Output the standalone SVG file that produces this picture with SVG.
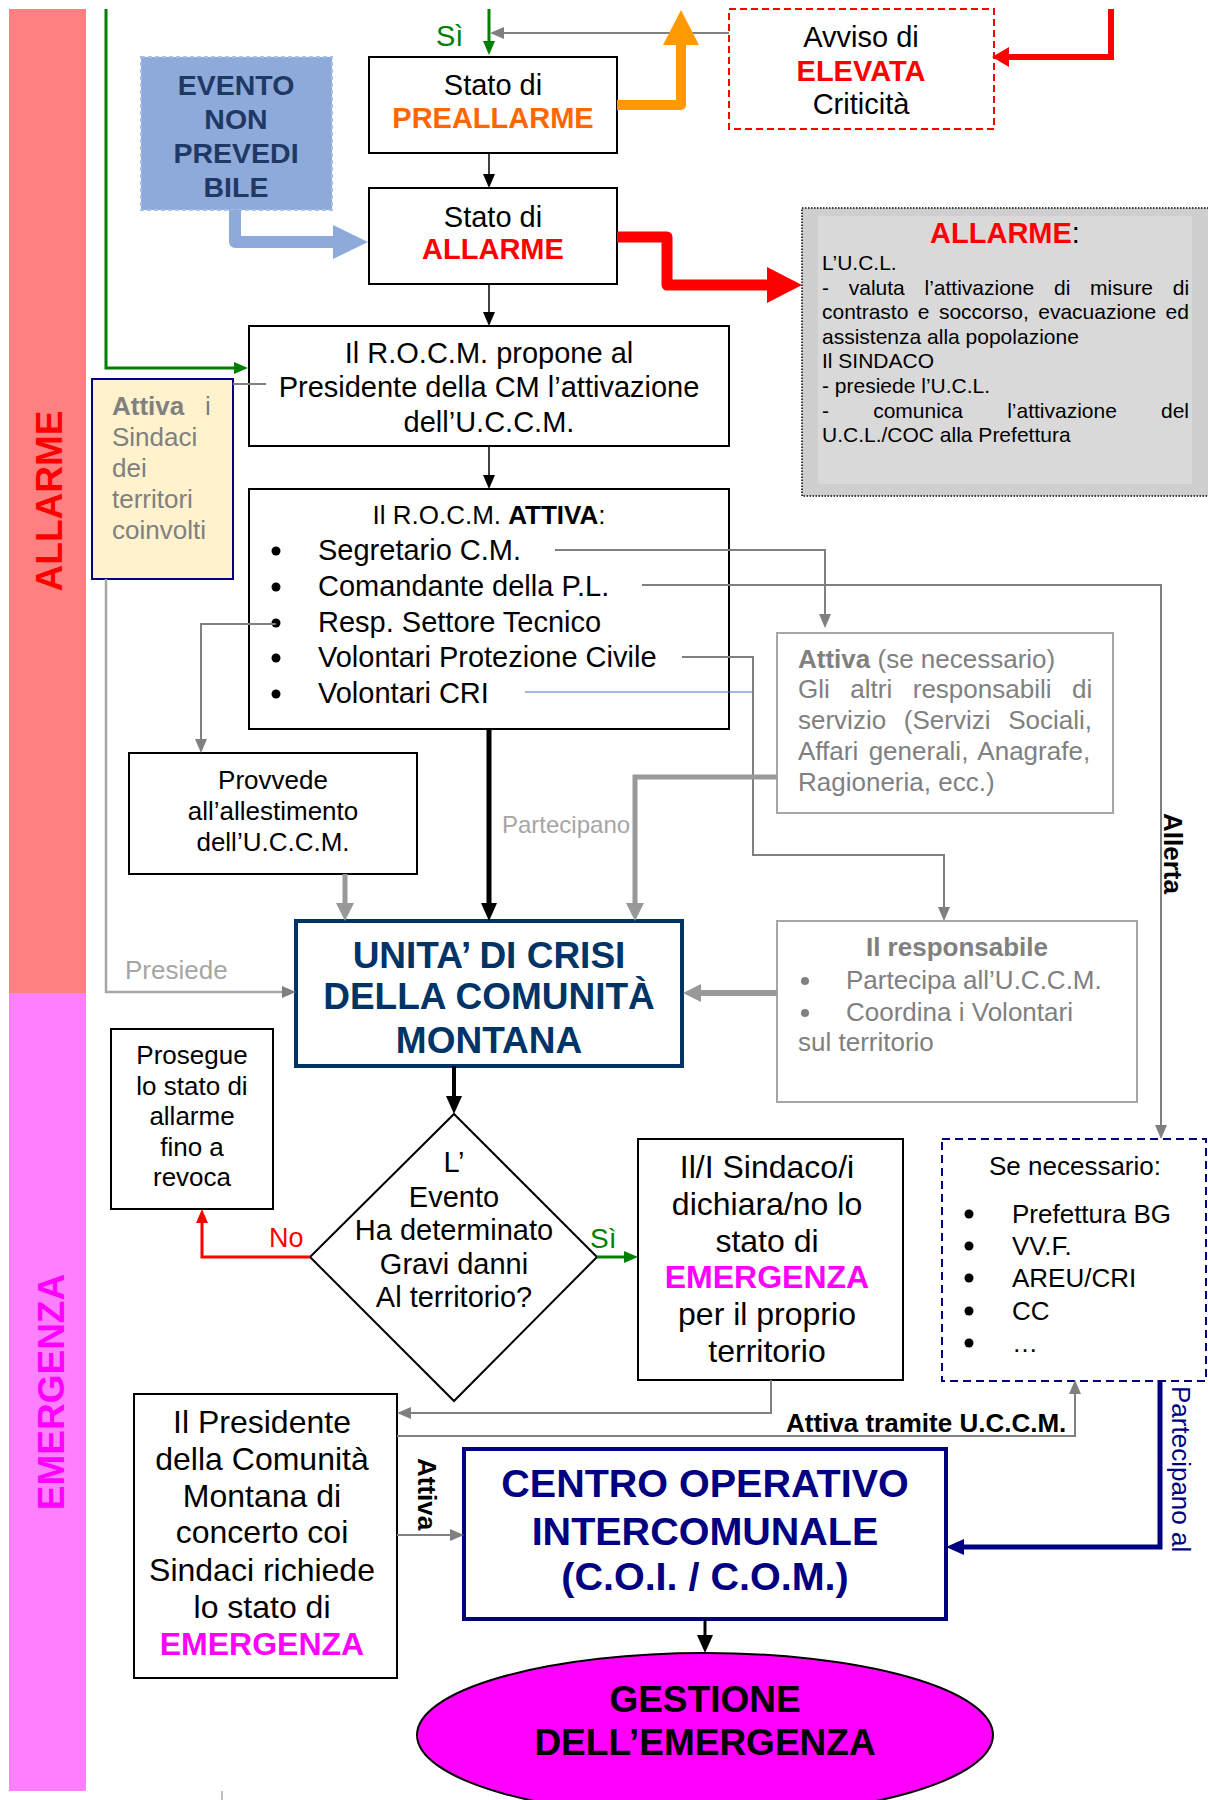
<svg xmlns="http://www.w3.org/2000/svg" width="1208" height="1800" viewBox="0 0 1208 1800">
<style>
text{font-family:"Liberation Sans",Arial,sans-serif}
.box{fill:#fff;stroke:#000;stroke-width:2}
.gbox{fill:#fff;stroke:#a6a6a6;stroke-width:2}
.c{text-anchor:middle}
.b{font-weight:bold}
.f29{font-size:29px}
.f26{font-size:26px}
.f32{font-size:32px}
.gt{fill:#808080}
.lg{fill:#a6a6a6}
.ln{fill:none;stroke:#808080;stroke-width:2}
.lnk{fill:none;stroke:#999;stroke-width:5}
.red{fill:#ff0000}
.mag{fill:#ff00ff}
.grn{fill:#008000}
</style>
<defs>
<marker id="ak" markerUnits="userSpaceOnUse" markerWidth="14" markerHeight="12" refX="1" refY="6" orient="auto"><path d="M0,0 L14,6 L0,12 z" fill="#000"/></marker>
<marker id="akl" markerUnits="userSpaceOnUse" markerWidth="18" markerHeight="16" refX="1" refY="8" orient="auto"><path d="M0,0 L18,8 L0,16 z" fill="#000"/></marker>
<marker id="ag" markerUnits="userSpaceOnUse" markerWidth="14" markerHeight="12" refX="1" refY="6" orient="auto"><path d="M0,0 L14,6 L0,12 z" fill="#808080"/></marker>
<marker id="agl" markerUnits="userSpaceOnUse" markerWidth="18" markerHeight="18" refX="1" refY="9" orient="auto"><path d="M0,0 L18,9 L0,18 z" fill="#999"/></marker>
<marker id="agr" markerUnits="userSpaceOnUse" markerWidth="14" markerHeight="12" refX="1" refY="6" orient="auto"><path d="M0,0 L14,6 L0,12 z" fill="#008000"/></marker>
<marker id="ar" markerUnits="userSpaceOnUse" markerWidth="14" markerHeight="12" refX="1" refY="6" orient="auto"><path d="M0,0 L14,6 L0,12 z" fill="#ff0000"/></marker>
<marker id="an" markerUnits="userSpaceOnUse" markerWidth="18" markerHeight="16" refX="1" refY="8" orient="auto"><path d="M0,0 L18,8 L0,16 z" fill="#000080"/></marker>
</defs>
<rect width="1208" height="1800" fill="#fff"/>

<g id="bar-allarme">
<rect x="9" y="9" width="77" height="984" fill="#ff8080"/>
<text transform="translate(62,501) rotate(-90)" class="c b red" font-size="37">ALLARME</text>
</g>
<g id="bar-emergenza">
<rect x="9" y="993" width="77" height="798" fill="#ff80ff"/>
<text transform="translate(64,1392) rotate(-90)" class="c b mag" font-size="37">EMERGENZA</text>
</g>

<g id="evento-non-prevedibile">
<rect x="141" y="57" width="191" height="153" fill="#8eaadb" stroke="#a9c0e6" stroke-width="2" stroke-dasharray="4,3"/>
<text class="c b" font-size="28.5" fill="#1f3864"><tspan x="236" y="95">EVENTO</tspan><tspan x="236" y="129">NON</tspan><tspan x="236" y="163">PREVEDI</tspan><tspan x="236" y="197">BILE</tspan></text>
</g>

<g id="stato-preallarme">
<rect x="369" y="57" width="248" height="96" class="box"/>
<text x="493" y="95" class="c f29">Stato di</text>
<text x="493" y="128" class="c b f29" fill="#ff6600">PREALLARME</text>
</g>

<g id="stato-allarme">
<rect x="369" y="188" width="248" height="96" class="box"/>
<text x="493" y="227" class="c f29">Stato di</text>
<text x="493" y="259" class="c b f29 red">ALLARME</text>
</g>

<g id="avviso-elevata-criticita">
<rect x="729" y="9" width="265" height="120" fill="#fff" stroke="#ff0000" stroke-width="2" stroke-dasharray="7,4"/>
<text x="861" y="47" class="c f29">Avviso di</text>
<text x="861" y="81" class="c b f29 red">ELEVATA</text>
<text x="861" y="114" class="c f29">Criticità</text>
</g>

<g id="allarme-info">
<rect x="802" y="208" width="420" height="288" fill="#cfcfcf" stroke="#000" stroke-width="1.5" stroke-dasharray="1.5,1.5"/>
<rect x="818" y="216" width="374" height="268" fill="#d9d9d9"/>
<text x="1005" y="243" class="c f29"><tspan class="b red">ALLARME</tspan>:</text>
<g font-size="21">
<text x="822" y="270">L’U.C.L.</text>
<text x="822" y="294.6" word-spacing="13.9">- valuta l’attivazione di misure di</text>
<text x="822" y="319.2" word-spacing="3.6">contrasto e soccorso, evacuazione ed</text>
<text x="822" y="343.8">assistenza alla popolazione</text>
<text x="822" y="368.4">Il SINDACO</text>
<text x="822" y="393">- presiede l’U.C.L.</text>
<text x="822" y="417.6" word-spacing="38.3">- comunica l’attivazione del</text>
<text x="822" y="442.2">U.C.L./COC alla Prefettura</text>
</g>
</g>

<g id="rocm-propone">
<rect x="249" y="326" width="480" height="120" class="box"/>
<text class="c f29"><tspan x="489" y="363">Il R.O.C.M. propone al</tspan><tspan x="489" y="397">Presidente della CM l’attivazione</tspan><tspan x="489" y="432">dell’U.C.C.M.</tspan></text>
</g>

<g id="attiva-sindaci">
<rect x="92" y="379" width="141" height="200" fill="#fff2cc" stroke="#000080" stroke-width="2"/>
<text class="gt f26"><tspan x="112" y="415" class="b">Attiva</tspan><tspan x="205" y="415">i</tspan><tspan x="112" y="446">Sindaci</tspan><tspan x="112" y="477">dei</tspan><tspan x="112" y="508">territori</tspan><tspan x="112" y="539">coinvolti</tspan></text>
</g>

<g id="rocm-attiva">
<rect x="249" y="489" width="480" height="240" class="box"/>
<text x="489" y="524" class="c f26">Il R.O.C.M. <tspan class="b">ATTIVA</tspan>:</text>
<g fill="#000"><circle cx="276" cy="551" r="4.5"/><circle cx="276" cy="587" r="4.5"/><circle cx="276" cy="623" r="4.5"/><circle cx="276" cy="658" r="4.5"/><circle cx="276" cy="694" r="4.5"/></g>
<text class="f29"><tspan x="318" y="560">Segretario C.M.</tspan><tspan x="318" y="596">Comandante della P.L.</tspan><tspan x="318" y="632">Resp. Settore Tecnico</tspan><tspan x="318" y="667">Volontari Protezione Civile</tspan><tspan x="318" y="703">Volontari CRI</tspan></text>
</g>

<g id="attiva-se-necessario">
<rect x="777" y="633" width="336" height="180" class="gbox"/>
<text class="gt f26"><tspan x="798" y="668"><tspan class="b">Attiva</tspan> (se necessario)</tspan></text>
<text x="798" y="698" class="gt f26" word-spacing="13.3">Gli altri responsabili di</text>
<text x="798" y="729" class="gt f26" word-spacing="10.5">servizio (Servizi Sociali,</text>
<text x="798" y="760" class="gt f26" word-spacing="3.2">Affari generali, Anagrafe,</text>
<text x="798" y="791" class="gt f26">Ragioneria, ecc.)</text>
</g>

<g id="provvede-allestimento">
<rect x="129" y="753" width="288" height="121" class="box"/>
<text class="c f26"><tspan x="273" y="789">Provvede</tspan><tspan x="273" y="820">all’allestimento</tspan><tspan x="273" y="851">dell’U.C.C.M.</tspan></text>
</g>

<g id="unita-di-crisi">
<rect x="296" y="921" width="386" height="145" fill="#fff" stroke="#003366" stroke-width="4"/>
<text class="c b" font-size="37" fill="#003366"><tspan x="489" y="968">UNITA’ DI CRISI</tspan><tspan x="489" y="1009">DELLA COMUNITÀ</tspan><tspan x="489" y="1053">MONTANA</tspan></text>
</g>

<g id="il-responsabile">
<rect x="777" y="921" width="360" height="181" class="gbox"/>
<text x="957" y="956" class="c b gt f26">Il responsabile</text>
<g fill="#808080"><circle cx="805" cy="981" r="4"/><circle cx="805" cy="1013" r="4"/></g>
<text class="gt f26"><tspan x="846" y="989">Partecipa all’U.C.C.M.</tspan><tspan x="846" y="1021">Coordina i Volontari</tspan><tspan x="798" y="1051">sul territorio</tspan></text>
</g>

<g id="prosegue-allarme">
<rect x="111" y="1029" width="162" height="180" class="box"/>
<text class="c f26"><tspan x="192" y="1064">Prosegue</tspan><tspan x="192" y="1095">lo stato di</tspan><tspan x="192" y="1125">allarme</tspan><tspan x="192" y="1156">fino a</tspan><tspan x="192" y="1186">revoca</tspan></text>
</g>

<g id="decisione-gravi-danni">
<polygon points="454,1114 597,1257 454,1401 310,1257" fill="#fff" stroke="#000" stroke-width="2"/>
<text class="c" font-size="29"><tspan x="454" y="1172">L’</tspan><tspan x="454" y="1207">Evento</tspan><tspan x="454" y="1240">Ha determinato</tspan><tspan x="454" y="1274">Gravi danni</tspan><tspan x="454" y="1307">Al territorio?</tspan></text>
</g>

<g id="sindaco-dichiara">
<rect x="638" y="1139" width="265" height="241" class="box"/>
<text class="c f32"><tspan x="767" y="1178">Il/I Sindaco/i</tspan><tspan x="767" y="1215">dichiara/no lo</tspan><tspan x="767" y="1252">stato di</tspan><tspan x="767" y="1288" class="b mag">EMERGENZA</tspan><tspan x="767" y="1325">per il proprio</tspan><tspan x="767" y="1362">territorio</tspan></text>
</g>

<g id="se-necessario">
<rect x="942" y="1139" width="264" height="242" fill="#fff" stroke="#000080" stroke-width="2" stroke-dasharray="8,5"/>
<text x="1075" y="1175" class="c f26">Se necessario:</text>
<g fill="#000"><circle cx="969" cy="1214" r="4.5"/><circle cx="969" cy="1246" r="4.5"/><circle cx="969" cy="1278" r="4.5"/><circle cx="969" cy="1311" r="4.5"/><circle cx="969" cy="1343" r="4.5"/></g>
<text class="f26"><tspan x="1012" y="1223">Prefettura BG</tspan><tspan x="1012" y="1255">VV.F.</tspan><tspan x="1012" y="1287">AREU/CRI</tspan><tspan x="1012" y="1320">CC</tspan><tspan x="1012" y="1352">…</tspan></text>
</g>

<g id="presidente-richiede">
<rect x="134" y="1394" width="263" height="284" class="box"/>
<text class="c f32"><tspan x="262" y="1433">Il Presidente</tspan><tspan x="262" y="1470">della Comunità</tspan><tspan x="262" y="1507">Montana di</tspan><tspan x="262" y="1543">concerto coi</tspan><tspan x="262" y="1581">Sindaci richiede</tspan><tspan x="262" y="1618">lo stato di</tspan><tspan x="262" y="1655" class="b mag">EMERGENZA</tspan></text>
</g>

<g id="coi-com">
<rect x="464" y="1449" width="482" height="170" fill="#fff" stroke="#000080" stroke-width="4"/>
<text class="c b" font-size="39.5" fill="#000080"><tspan x="705" y="1497">CENTRO OPERATIVO</tspan><tspan x="705" y="1545">INTERCOMUNALE</tspan><tspan x="705" y="1590">(C.O.I. / C.O.M.)</tspan></text>
</g>

<g id="gestione-emergenza">
<ellipse cx="705" cy="1735" rx="288" ry="82" fill="#ff00ff" stroke="#000" stroke-width="2"/>
<text class="c b" font-size="37"><tspan x="705" y="1712">GESTIONE</tspan><tspan x="705" y="1755">DELL’EMERGENZA</tspan></text>
</g>

<g id="connectors">
<polyline points="106,9 106,368 235,368" fill="none" stroke="#008000" stroke-width="3" marker-end="url(#agr)"/>
<line x1="489" y1="9" x2="489" y2="42" stroke="#008000" stroke-width="3" marker-end="url(#agr)"/>
<text x="436" y="46" class="grn" font-size="29">Sì</text>
<line x1="729" y1="33" x2="503" y2="33" class="ln" marker-end="url(#ag)"/>
<line x1="489" y1="153" x2="489" y2="175" stroke="#000" stroke-width="1.5" marker-end="url(#ak)"/>
<path d="M235,210 V242 H335" fill="none" stroke="#8eaadb" stroke-width="12" stroke-linejoin="round"/>
<polygon points="333,225 368,242 333,259" fill="#8eaadb"/>
<path d="M617,105 H681 V43" fill="none" stroke="#ff9900" stroke-width="10" stroke-linejoin="round"/>
<polygon points="663,45 681,10 699,45" fill="#ff9900"/>
<path d="M1111,9 V57 H1007" fill="none" stroke="#ff0000" stroke-width="6"/>
<polygon points="1009,47 992,57 1009,67" fill="#ff0000"/>
<path d="M617,237 H667 V285 H769" fill="none" stroke="#ff0000" stroke-width="11" stroke-linejoin="round"/>
<polygon points="767,267 802,285 767,303" fill="#ff0000"/>
<line x1="489" y1="284" x2="489" y2="313" stroke="#000" stroke-width="1.5" marker-end="url(#ak)"/>
<line x1="489" y1="446" x2="489" y2="476" stroke="#000" stroke-width="1.5" marker-end="url(#ak)"/>
<line x1="233" y1="384" x2="266" y2="384" class="ln"/>
<polyline points="555,550 825,550 825,615" class="ln" marker-end="url(#ag)"/>
<polyline points="642,585 1161,585 1161,1126" class="ln" marker-end="url(#ag)"/>
<text transform="translate(1164,813) rotate(90)" class="b" font-size="26">Allerta</text>
<polyline points="276,624 201,624 201,740" class="ln" marker-end="url(#ag)"/>
<polyline points="682,657 753,657 753,855 944,855 944,908" class="ln" marker-end="url(#ag)"/>
<line x1="525" y1="692" x2="753" y2="692" stroke="#4472c4" stroke-width="1.2"/>
<polyline points="777,777 635,777 635,904" class="lnk" marker-end="url(#agl)"/>
<text x="502" y="833" class="lg" font-size="24">Partecipano</text>
<line x1="489" y1="729" x2="489" y2="904" stroke="#000" stroke-width="5" marker-end="url(#akl)"/>
<line x1="345" y1="874" x2="345" y2="904" class="lnk" marker-end="url(#agl)"/>
<polyline points="106,579 106,992 283,992" fill="none" stroke="#a6a6a6" stroke-width="2.5" marker-end="url(#ag)"/>
<text x="125" y="979" class="lg f26">Presiede</text>
<line x1="777" y1="993" x2="700" y2="993" stroke="#999" stroke-width="6" marker-end="url(#agl)"/>
<line x1="454" y1="1066" x2="454" y2="1097" stroke="#000" stroke-width="4" marker-end="url(#akl)"/>
<polyline points="310,1257 202,1257 202,1222" fill="none" stroke="#ff0000" stroke-width="3" marker-end="url(#ar)"/>
<text x="269" y="1247" class="red" font-size="27">No</text>
<line x1="597" y1="1257" x2="625" y2="1257" stroke="#008000" stroke-width="3" marker-end="url(#agr)"/>
<text x="590" y="1248" class="grn" font-size="28">Sì</text>
<polyline points="771,1380 771,1413 410,1413" class="ln" marker-end="url(#ag)"/>
<polyline points="397,1436 1075,1436 1075,1393" class="ln" marker-end="url(#ag)"/>
<text x="786" y="1432" class="b f26">Attiva tramite U.C.C.M.</text>
<line x1="397" y1="1535" x2="451" y2="1535" class="ln" marker-end="url(#ag)"/>
<text transform="translate(418,1458) rotate(90)" class="b f26">Attiva</text>
<polyline points="1160,1380 1160,1547 963,1547" fill="none" stroke="#000080" stroke-width="5" marker-end="url(#an)"/>
<text transform="translate(1172,1386) rotate(90)" class="f26" fill="#000080">Partecipano al</text>
<line x1="705" y1="1619" x2="705" y2="1636" stroke="#000" stroke-width="3" marker-end="url(#akl)"/>
<line x1="222" y1="1791" x2="222" y2="1800" stroke="#808080" stroke-width="1"/>
</g>
</svg>
